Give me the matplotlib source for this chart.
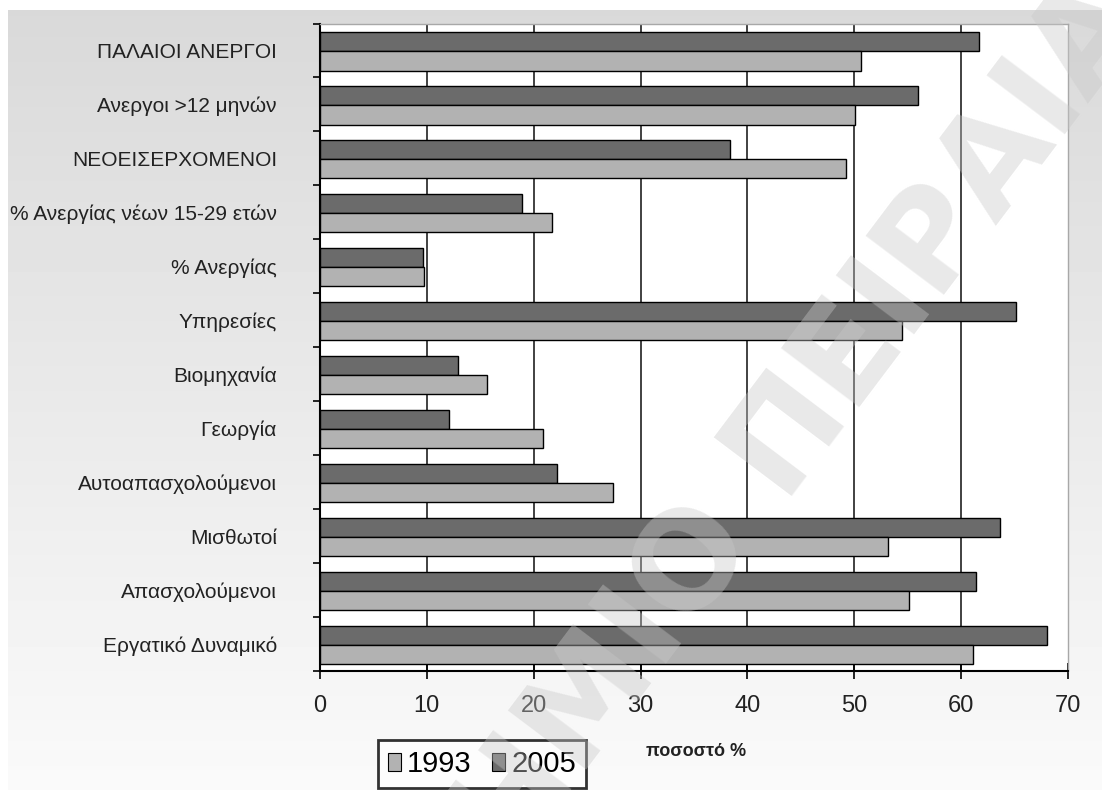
import matplotlib
matplotlib.use('Agg')
import matplotlib.pyplot as plt
import numpy as np
from matplotlib.patches import Patch

categories = ["ΠΑΛΑΙΟΙ ΑΝΕΡΓΟΙ", "Ανεργοι >12 μηνών", "ΝΕΟΕΙΣΕΡΧΟΜΕΝΟΙ",
              "% Ανεργίας νέων 15-29 ετών", "% Ανεργίας", "Υπηρεσίες",
              "Βιομηχανία", "Γεωργία", "Αυτοαπασχολούμενοι", "Μισθωτοί",
              "Απασχολούμενοι", "Εργατικό Δυναμικό"]
values_1993 = [50.6, 50.1, 49.2, 21.7, 9.7, 54.5, 15.6, 20.9, 27.4, 53.2, 55.1, 61.1]
values_2005 = [61.65, 56.0, 38.4, 18.9, 9.6, 65.1, 12.9, 12.1, 22.2, 63.6, 61.4, 68.0]
series_labels = ["1993", "2005"]
x_ticks = [0, 10, 20, 30, 40, 50, 60, 70]
x_label = "ποσοστό %"
watermark = "ΠΑΝΕΠΙΣΤΗΜΙΟ ΠΕΙΡΑΙΑ"

FONT = ['Liberation Sans', 'DejaVu Sans']
plt.rcParams['font.family'] = FONT

W, H = 1102, 790
fig = plt.figure(figsize=(W / 100, H / 100), dpi=100, facecolor='white')

# background gradient
bg = fig.add_axes([8 / W, 0, 1 - 8 / W, 1 - 10 / H], zorder=-10)
grad = np.linspace(217, 250, 256)[:, None] / 255.0
bg.imshow(grad, cmap='gray', vmin=0, vmax=1, aspect='auto', extent=[0, 1, 0, 1])
bg.set_axis_off()

ax = fig.add_axes([320 / W, 1 - 671 / H, (1068 - 320) / W, (671 - 23.5) / H])
ax.set_facecolor('white')

y = np.arange(len(categories))
h = 0.355
c_dark = '#6b6b6b'
c_light = '#b2b2b2'
ax.barh(y - 0.16, values_2005, height=h, color=c_dark, edgecolor='black', linewidth=1.0, zorder=3)
ax.barh(y + 0.195, values_1993, height=h, color=c_light, edgecolor='black', linewidth=1.0, zorder=3)

ax.set_xlim(0, 70)
ax.set_ylim(len(categories) - 0.5, -0.5)
ax.set_xticks(x_ticks)
ax.set_xticklabels([str(t) for t in x_ticks], fontsize=17, color='#222222')
for xv in x_ticks[1:-1]:
    ax.axvline(xv, color='#333333', linewidth=1.3, zorder=1)

ax.set_yticks(y)
ax.set_yticklabels(categories, fontsize=15, color='#222222')
ax.tick_params(axis='y', which='major', length=0, pad=31)
ax.set_yticks(np.arange(-0.5, len(categories), 1.0), minor=True)
ax.tick_params(axis='y', which='minor', length=5, width=1.2, direction='out', color='black')
ax.tick_params(axis='x', length=11, width=1.2, direction='inout', pad=12, color='black')

for s in ['left', 'bottom']:
    ax.spines[s].set_color('black')
    ax.spines[s].set_linewidth(1.5)
for s in ['top', 'right']:
    ax.spines[s].set_color('#a8a8a8')
    ax.spines[s].set_linewidth(1.0)

fig.text(696 / W, 1 - 751 / H, x_label, fontsize=13, fontweight='bold',
         ha='center', va='center', color='#222222')

handles = [Patch(facecolor=c_light, edgecolor='black', linewidth=0.8),
           Patch(facecolor=c_dark, edgecolor='black', linewidth=0.8)]
leg = fig.legend(handles, series_labels, loc='upper left',
                 bbox_to_anchor=(378 / W, 1 - 740 / H), ncol=2, fontsize=21,
                 frameon=True, fancybox=False, edgecolor='black',
                 handlelength=0.45, handleheight=0.55, handletextpad=0.2,
                 columnspacing=0.7, borderpad=0.35, borderaxespad=0)
leg.get_frame().set_linewidth(2.0)
leg.get_frame().set_facecolor('white')

# watermark
fig.text(1121 / W, 1 + 1 / H, watermark, fontsize=96, fontweight='bold',
         color=(200 / 255,) * 3, alpha=0.4, rotation=53, rotation_mode='anchor',
         ha='right', va='center', family='DejaVu Sans', zorder=20)

fig.savefig('out.png', dpi=100, facecolor='white')
